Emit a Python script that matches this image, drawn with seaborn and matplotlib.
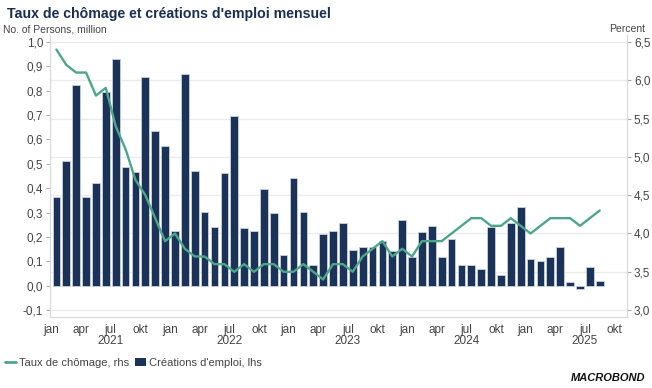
import numpy as np
import pandas as pd
import matplotlib.pyplot as plt
import seaborn as sns
from matplotlib.lines import Line2D
from matplotlib.patches import Patch

# monthly data, jan 2021 -> aug 2025
jobs = [0.365, 0.51, 0.825, 0.365, 0.42, 0.795, 0.93, 0.485, 0.465, 0.856, 0.636, 0.574,
        0.224, 0.869, 0.47, 0.304, 0.24, 0.461, 0.696, 0.236, 0.225, 0.398, 0.297, 0.125,
        0.443, 0.304, 0.084, 0.214, 0.225, 0.256, 0.146, 0.157, 0.157, 0.185, 0.141, 0.268,
        0.118, 0.221, 0.243, 0.116, 0.193, 0.085, 0.085, 0.069, 0.239, 0.042, 0.257, 0.322,
        0.11, 0.101, 0.118, 0.157, 0.016, -0.013, 0.077, 0.02]
unemp = [6.4, 6.2, 6.1, 6.1, 5.8, 5.9, 5.4, 5.1, 4.7, 4.5, 4.2, 3.9,
         4.0, 3.8, 3.7, 3.7, 3.6, 3.6, 3.5, 3.6, 3.5, 3.6, 3.6, 3.5,
         3.5, 3.6, 3.5, 3.4, 3.6, 3.6, 3.5, 3.7, 3.8, 3.9, 3.7, 3.8,
         3.7, 3.9, 3.9, 3.9, 4.0, 4.1, 4.2, 4.2, 4.1, 4.1, 4.2, 4.1,
         4.0, 4.1, 4.2, 4.2, 4.2, 4.1, 4.2, 4.3]
month_labels = ['jan', 'apr', 'jul', 'okt']
years = ['2021', '2022', '2023', '2024', '2025']

df = pd.DataFrame({'pos': np.arange(len(jobs)), 'jobs': jobs, 'unemp': unemp})

navy = '#1b3358'
green = '#4fa58a'
grey_txt = '#444444'
grey_line = '#d9d9d9'

sns.set_style('white')
plt.rcParams['font.family'] = ['Liberation Sans', 'DejaVu Sans']

fig = plt.figure(figsize=(6.52, 3.88), dpi=100)
ax = fig.add_axes([50 / 652, 1 - 317 / 388, 577 / 652, 282 / 388])

# right axis range and left axis linked so 6.5 <-> 1.0 and 3.0 <-> -0.1
r_lo, r_hi = 2.91, 6.59
to_left = lambda r: -0.1 + (r - 3.0) * 1.1 / 3.5
r_ticks = np.arange(3.0, 6.51, 0.5)
for r in r_ticks:
    ax.axhline(to_left(r), color='#ebebeb', lw=1, zorder=0)

sns.barplot(data=df, x='pos', y='jobs', color=navy, width=0.78, saturation=1,
            edgecolor='#c9d1dc', linewidth=0.6, ax=ax, zorder=2)
ax.set_ylim(to_left(r_lo), to_left(r_hi))
ax.set_yticks(np.round(np.arange(-0.1, 1.01, 0.1), 1))
ax.set_yticklabels([f'{v:.1f}'.replace('.', ',') for v in np.arange(-0.1, 1.01, 0.1)])

ax2 = ax.twinx()
sns.lineplot(data=df, x='pos', y='unemp', color=green, lw=1.7, ax=ax2)
ax2.set_ylim(r_lo, r_hi)
ax2.set_yticks(r_ticks)
ax2.set_yticklabels([f'{v:.1f}'.replace('.', ',') for v in r_ticks])

xt = np.arange(0, 58, 3) - 0.5
ax.set_xticks(xt)
ax.set_xticklabels([month_labels[i % 4] for i in range(len(xt))])
ax.set_xlim(-0.65, 57.76)
for i, y in enumerate(years):
    ax.text(i * 12 + 5.5, -0.085, y, transform=ax.get_xaxis_transform(),
            ha='center', va='center', fontsize=8.5, color=grey_txt)

for a in (ax, ax2):
    a.set_xlabel('')
    a.set_ylabel('')
    for s in a.spines.values():
        s.set_color(grey_line)
        s.set_linewidth(0.8)
    a.spines['top'].set_visible(False)
    a.tick_params(colors=grey_txt, labelsize=8.5, length=3, width=0.8, pad=2)
    a.tick_params(axis='both', color='#aaaaaa')

fig.text(7 / 652, 1 - 14 / 388, "Taux de chômage et créations d'emploi mensuel",
         fontsize=10.2, fontweight='bold', color='#1b2f52', va='center')
fig.text(3 / 652, 1 - 29 / 388, 'No. of Persons, million', fontsize=7.5,
         color=grey_txt, va='center')
fig.text(645 / 652, 1 - 29 / 388, 'Percent', fontsize=7.5, color=grey_txt,
         va='center', ha='right')

handles = [Line2D([0], [0], color=green, lw=2),
           Patch(facecolor=navy, edgecolor='none')]
fig.legend(handles, ['Taux de chômage, rhs', "Créations d'emploi, lhs"],
           loc='center left', bbox_to_anchor=(-0.008, 1 - 363 / 388), ncol=2,
           frameon=False, fontsize=8, handlelength=1.0, handletextpad=0.3,
           columnspacing=0.5, labelcolor=grey_txt)

fig.text(645 / 652, 1 - 378 / 388, 'MACROBOND', fontsize=8, fontweight='bold',
         style='italic', color='#111111', ha='right', va='center')

fig.savefig('out.png', dpi=100)
